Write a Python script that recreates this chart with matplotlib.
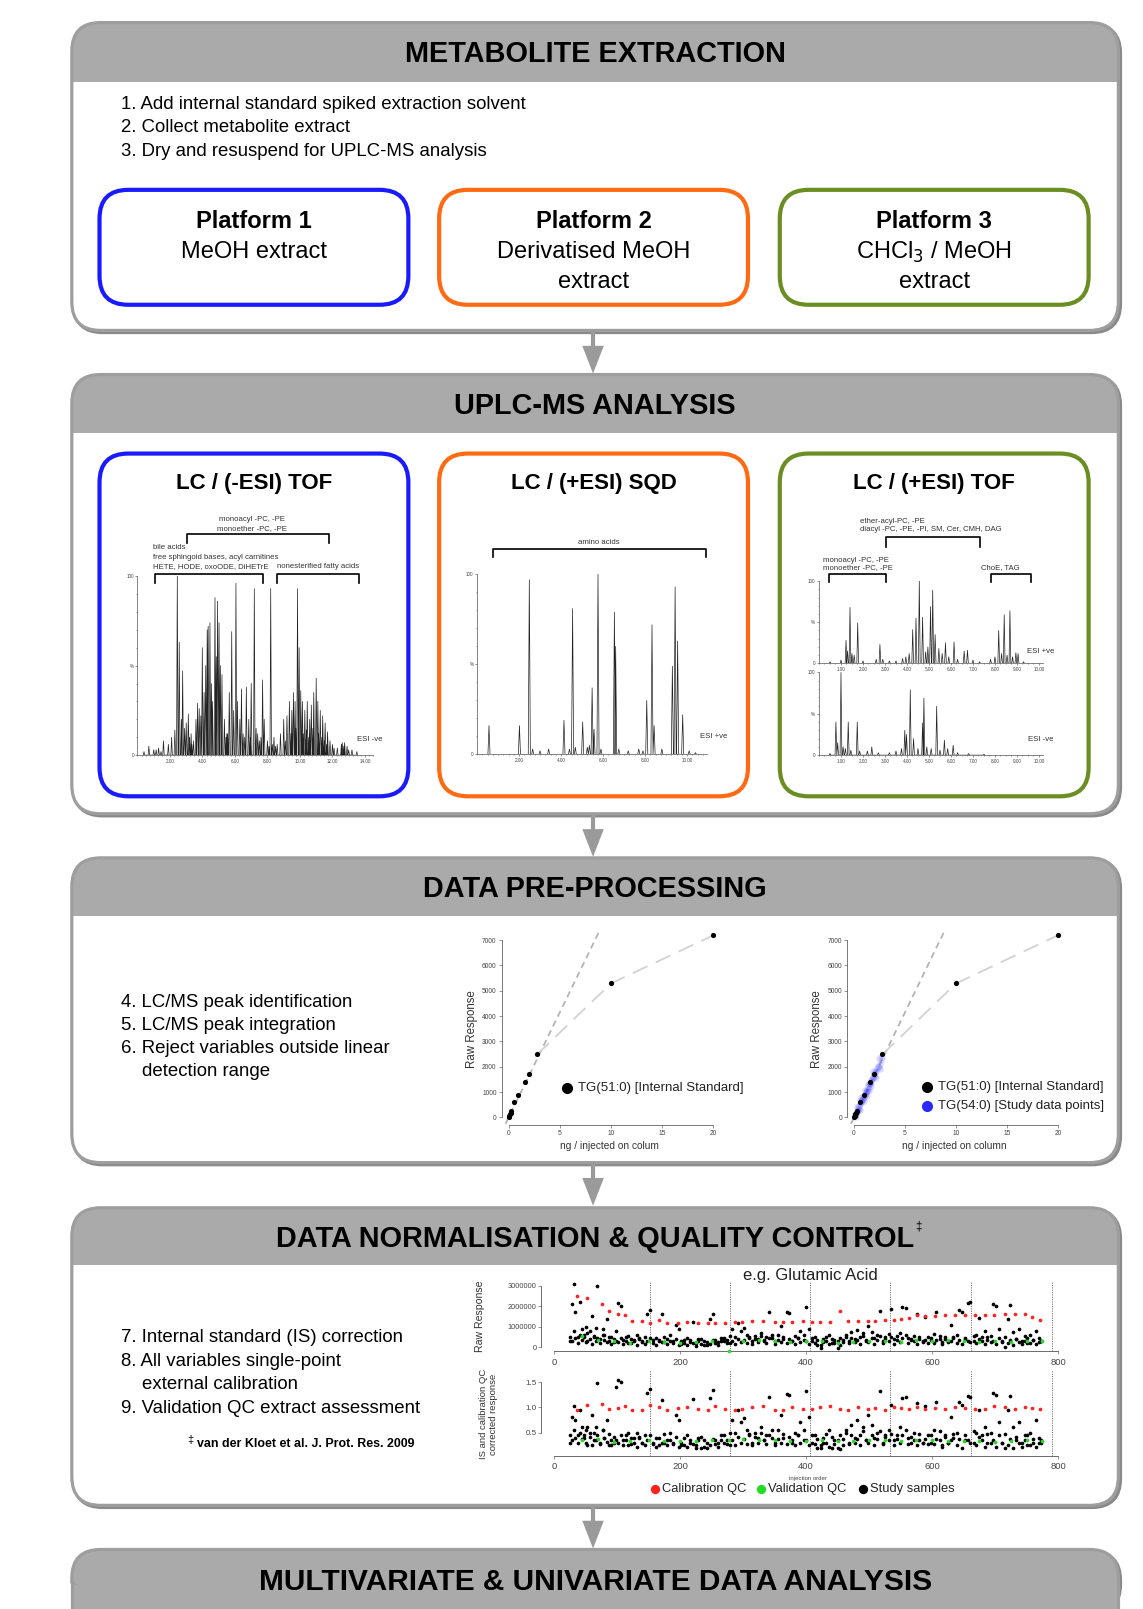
"""Metabolomics workflow figure: extraction -> UPLC-MS -> pre-processing -> QC -> analysis."""

import matplotlib

matplotlib.use("Agg")
import matplotlib.pyplot as plt
import numpy as np
from matplotlib import font_manager
from matplotlib.patches import FancyBboxPatch, Polygon, Rectangle
from matplotlib.ticker import MultipleLocator

plt.rcParams["font.family"] = ["Liberation Sans", "DejaVu Sans"]

# layout units are pixels of the (1114 x 1568) reference view
W, H = 1114, 1568

HEADER = "#aaaaaa"
BORDER = "#9e9e9e"
ARROW = "#9a9a9a"
BLUE = "#1a1aff"
ORANGE = "#ff6a13"
GREEN = "#6b8e23"
INK = "#222222"

# ---------------- chromatograms: peak retention time [min] / height [%] ----
CHROM1_T = [0.7, 1.0, 1.3, 1.6, 1.9, 2.1, 2.3, 2.45, 2.57, 2.7, 2.78, 2.9, 3.0, 3.13,
            3.3, 3.45, 3.6, 3.7, 3.8, 3.9, 3.99, 4.1, 4.2, 4.29, 4.35, 4.46, 4.55,
            4.62, 4.77, 4.85, 4.93, 5.02, 5.1, 5.2, 5.35, 5.5, 5.65, 5.8, 5.92, 6.06,
            6.15, 6.3, 6.4, 6.5, 6.7, 6.85, 7.0, 7.19, 7.3, 7.5, 7.7, 7.8, 8.0, 8.2,
            8.4, 8.6, 8.8, 9.0, 9.2, 9.35, 9.5, 9.6, 9.7, 9.85, 9.95, 10.05, 10.15,
            10.3, 10.45, 10.6, 10.7, 10.85, 11.0, 11.1, 11.25, 11.4, 11.55, 11.7,
            11.85, 12.0, 12.3, 12.55, 12.7, 13.0,
            9.1, 9.45, 9.75, 10.2, 10.4, 10.55, 10.8, 11.15, 11.35, 11.5, 11.65, 12.1,
            12.6, 12.75, 12.9, 13.2, 13.5, 0.4, 1.15, 1.45, 3.2, 3.35, 5.45, 5.55, 6.6,
            6.95, 7.4, 7.6, 8.1, 8.3, 8.5]
CHROM1_H = [5, 3, 4, 8, 6, 10, 14, 100, 63, 20, 47, 15, 18, 23,
            12, 8, 20, 29, 26, 22, 60, 35, 50, 70, 72, 74, 40,
            30, 88, 55, 86, 74, 50, 45, 20, 12, 35, 69, 25, 96,
            30, 20, 37, 12, 38, 20, 40, 93, 15, 8, 42, 20, 8, 93,
            10, 6, 12, 20, 22, 30, 25, 35, 30, 93, 60, 36, 30,
            25, 30, 20, 28, 35, 43, 30, 25, 22, 18, 13,
            8, 6, 4, 6, 5, 3,
            8, 12, 15, 12, 14, 10, 15, 12, 10, 8, 6, 4,
            7, 7, 5, 3, 2, 2, 3, 2, 10, 6, 10, 12, 10,
            10, 12, 10, 5, 6, 5]

CHROM2_T = [0.57, 2.02, 2.49, 2.65, 3.0, 3.41, 4.14, 4.4, 4.55, 4.68, 5.03, 5.25, 5.35,
            5.48, 5.57, 5.76, 5.9, 6.54, 6.6, 6.75, 7.2, 7.7, 7.9, 8.08, 8.33, 8.43,
            8.8, 9.3, 9.43, 9.55, 9.79, 10.1, 10.4]
CHROM2_H = [16, 16, 97, 3, 2, 3, 19, 3, 81, 4, 18, 4, 5,
            37, 14, 100, 3, 79, 60, 3, 2, 3, 2, 30, 72, 16,
            3, 49, 93, 63, 22, 2, 1]

CHROM3_POS_T = [0.5, 1.0, 1.23, 1.3, 1.41, 1.5, 1.6, 1.76, 2.0, 2.6, 2.77, 2.9, 3.2, 3.5,
                3.8, 3.95, 4.1, 4.26, 4.41, 4.56, 4.71, 4.85, 4.95, 5.07, 5.17, 5.28,
                5.45, 5.6, 5.75, 5.9, 6.14, 6.3, 6.6, 6.75, 7.0, 7.3, 7.8, 8.0, 8.17,
                8.3, 8.42, 8.55, 8.68, 8.8, 8.95, 9.05, 9.3]
CHROM3_POS_H = [2, 4, 28, 15, 68, 12, 10, 49, 3, 5, 23, 5, 3, 3,
                6, 8, 12, 41, 55, 100, 56, 14, 20, 69, 89, 35,
                18, 12, 25, 8, 26, 5, 15, 16, 4, 2, 5, 8, 40,
                12, 59, 10, 64, 8, 13, 12, 2]
CHROM3_NEG_T = [0.5, 0.77, 0.85, 1.0, 1.1, 1.2, 1.33, 1.45, 1.74, 1.85, 2.2, 2.4, 2.7,
                3.2, 3.5, 3.75, 3.9, 3.98, 4.15, 4.3, 4.5, 4.71, 4.77, 4.9, 5.1, 5.35,
                5.5, 5.7, 5.85, 6.1, 6.3, 6.8, 7.5]
CHROM3_NEG_H = [2, 40, 15, 100, 10, 8, 40, 6, 40, 5, 5, 10, 3,
                3, 5, 8, 30, 25, 79, 20, 8, 39, 69, 10, 8, 59,
                6, 18, 8, 12, 3, 2, 1]

# ---------------- calibration curves --------------------------------------
CAL_X = [0, 0.05, 0.13, 0.2, 0.25, 0.55, 0.94, 1.59, 1.98, 2.79, 10, 20]     # ng on column
CAL_Y = [0, 60, 120, 180, 250, 620, 900, 1400, 1700, 2490, 5290, 7190]       # raw response
LINEAR_SLOPE = 830  # response per ng, dashed linear range line
STUDY_CAL_X = [0.05, 0.1, 0.15, 0.2, 0.25, 0.3, 0.4, 0.45, 0.5, 0.6, 0.65, 0.7, 0.8, 0.85,
               0.9, 1.0, 1.05, 1.1, 1.2, 1.25, 1.3, 1.4, 1.45, 1.5, 1.6, 1.65, 1.7, 1.8,
               1.85, 1.9, 2.0, 2.05, 2.1, 2.2, 2.3, 2.4, 2.5, 2.6, 0.35, 0.75, 1.15, 1.55,
               1.95, 2.35, 0.3, 0.55, 0.7, 0.95, 1.05, 1.25, 1.35, 1.5, 1.7, 1.9, 2.15,
               2.45, 2.55, 2.7, 0.15, 0.6]
STUDY_CAL_Y = [60, 90, 180, 150, 260, 230, 380, 330, 450, 520, 600, 560, 700, 760,
               720, 850, 900, 880, 1000, 1100, 1050, 1200, 1150, 1300, 1350, 1400, 1480, 1500,
               1600, 1550, 1700, 1650, 1780, 1850, 1950, 2000, 2100, 2250, 300, 680, 1020, 1330,
               1720, 2030, 420, 280, 800, 650, 1100, 850, 1300, 1050, 1250, 1850, 1550,
               2350, 1900, 2400, 20, 700]

# ---------------- QC run: glutamic acid -----------------------------------
BATCH_BREAKS = [152, 279, 406, 534, 662, 790]
CALQC_X = [36, 52, 76, 88, 101, 113, 124, 139, 153, 166, 180, 197, 211, 229, 244, 255, 271,
           287, 299, 315, 331, 350, 364, 378, 395, 410, 422, 438, 454, 466, 482, 498, 510,
           526, 539, 551, 564, 576, 589, 605, 621, 636, 652, 668, 684, 699, 715, 731, 747,
           759, 772]
CALQC_RAW = [2.49, 2.38, 2.13, 1.79, 1.60, 1.56, 1.29, 1.29, 1.17, 1.32, 1.17, 1.17, 1.21,
             1.20, 1.17, 1.20, 1.20, 1.23, 1.23, 1.26, 1.28, 1.24, 1.23, 1.23, 1.26, 1.21,
             1.24, 1.24, 1.75, 1.28, 1.28, 1.28, 1.29, 1.32, 1.32, 1.40, 1.45, 1.56, 1.51,
             1.51, 1.56, 1.56, 1.56, 1.59, 1.56, 1.59, 1.60, 1.60, 1.60, 1.48, 1.35]  # x1e6
CALQC_CORR = [0.94, 1.05, 1.07, 0.96, 0.98, 1.02, 0.94, 0.95, 1.04, 1.00, 0.95, 0.98, 1.00,
              0.97, 0.95, 1.02, 0.97, 0.95, 0.97, 1.00, 1.02, 0.95, 0.94, 1.00, 0.97, 0.96,
              1.00, 1.03, 0.96, 0.94, 1.01, 0.97, 0.99, 0.95, 1.00, 0.98, 0.96, 1.00, 0.97,
              0.98, 0.96, 1.00, 0.99, 0.97, 0.97, 1.02, 1.00, 0.96, 1.01, 0.99, 0.97]
VALQC_X = [45, 70, 95, 120, 150, 175, 200, 225, 250, 278, 300, 325, 350, 375, 400, 425, 450,
           475, 500, 525, 550, 575, 600, 625, 650, 675, 700, 725, 750, 775]
VALQC_RAW = [0.55, 0.35, 0.3, 0.2, 0.3, 0.25, 0.2, 0.25, 0.3, -0.2, 0.3, 0.35, 0.3, 0.25, 0.3,
             0.3, 0.2, 0.25, 0.3, 0.3, 0.25, 0.35, 0.3, 0.35, 0.3, 0.25, 0.3, 0.25, 0.3, 0.3]
VALQC_CORR = [0.35, 0.37, 0.32, 0.33, 0.35, 0.34, 0.33, 0.34, 0.36, 0.36, 0.37, 0.36, 0.35,
              0.33, 0.34, 0.35, 0.33, 0.34, 0.35, 0.36, 0.34, 0.36, 0.35, 0.34, 0.33, 0.34,
              0.32, 0.33, 0.35, 0.34]
STUDY_X = [26, 29, 31, 34, 38, 41, 44, 47, 50, 53, 57, 60, 63, 66, 69, 73, 77, 80, 84, 87, 91, 95, 98,
           102, 106, 110, 114, 118, 122, 127, 131, 135, 140, 144, 148, 153, 157, 162, 166, 171,
           175, 180, 184, 189, 193, 198,
           202, 207, 211, 216, 220, 225, 229, 234, 238, 243, 247, 252, 256, 261, 265, 270, 274,
           279, 283, 288, 292, 297,
           301, 306, 310, 315, 319, 324, 328, 333, 337, 342, 346, 351, 355, 360, 364, 369, 373,
           378, 382, 387, 391, 396,
           400, 405, 409, 414, 418, 423, 427, 432, 436, 441, 445, 450, 454, 459, 463, 468, 472,
           477, 481, 486, 490, 495,
           499, 504, 508, 513, 517, 522, 526, 531, 535, 540, 544, 549, 553, 558, 562, 567, 571,
           576, 580, 585, 589, 594,
           598, 603, 607, 612, 616, 621, 625, 630, 634, 639, 643, 648, 652, 657, 661, 666, 670,
           675, 679, 684, 688, 693,
           697, 702, 706, 711, 715, 720, 724, 729, 733, 738, 742, 747, 751, 756, 760, 765, 769, 773]
STUDY_RAW_A = [0.3, 2.1, 3.1, 1.7, 0.5, 2.2, 0.9, 0.6, 1.0, 0.3, 0.8, 1.55, 0.5, 0.95, 3.0, 0.4,
               0.9, 0.6, 1.4, 0.3, 0.5, 0.25, 0.8,
               2.15, 2.0, 0.35, 0.5, 0.2, 0.4, 0.3, 0.6, 0.45, 0.3, 0.5, 1.6, 1.8, 0.35, 0.45,
               0.3, 1.6, 0.25, 0.4, 0.6, 0.3, 1.1, 0.9,
               0.3, 0.2, 0.45, 0.35, 1.25, 0.2, 0.4, 0.15, 0.3, 0.1, 1.4, 1.6, 0.35, 0.25, 0.45,
               0.3, 0.35, 0.2, 0.9, 0.5, 1.2, 0.8,
               0.95, 0.6, 0.45, 0.3, 0.55, 0.4, 0.7, 0.35, 0.5, 1.7, 0.45, 0.3, 0.6, 1.05, 0.4,
               1.7, 1.65, 0.3, 0.55, 0.45, 0.8, 0.35,
               1.95, 0.9, 0.3, 0.5, 0.1, -0.05, 0.4, 0.3, 0.6, 0.2, 0.35, -0.05, 0.45, 0.25, 0.6,
               0.3, 0.75, 0.4, 0.85, 0.5, 0.7, 0.35,
               1.05, 0.75, 0.45, 0.6, 1.75, 0.3, 0.5, 0.65, 1.85, 0.4, 0.55, 0.7, 1.95, 1.9,
               0.45, 0.35, 0.55, 1.6, 0.4, 0.3, 1.5, 0.5,
               0.35, 0.65, 1.7, 0.4, 0.25, 0.5, 0.3, 1.1, 0.45, 0.6, 1.8, 1.7, 0.4, 2.15, 2.2,
               0.3, 0.6, 1.45, 0.5, 0.8, 0.35, 0.55,
               2.1, 2.0, 0.9, 0.3, 0.0, 1.4, 2.05, 0.75, 0.4, 0.9, 0.3, 0.55, 0.2, 0.6, 0.35,
               0.8, 0.45, 0.3]
STUDY_RAW_B = [0.5, 0.3, 0.8, 0.45, 0.2, 0.6, 0.35, 0.5, 0.25, 0.7, 0.4, 0.15, 0.55, 0.3, 0.45,
               0.2, 0.6, 0.35, 0.25, 0.5, 0.15, 0.4, 0.3,
               0.25, 0.45, 0.15, 0.3, 0.55, 0.2, 0.35, 0.1, 0.4, 0.25, 0.15, 0.3, 0.45, 0.2, 0.1,
               0.35, 0.25, 0.5, 0.15, 0.3, 0.2, 0.4, 0.1,
               0.15, 0.35, 0.1, 0.25, 0.2, 0.05, 0.3, 0.4, 0.1, 0.25, 0.15, 0.35, 0.2, 0.1, 0.3,
               0.45, 0.2, 0.55, 0.3, 0.15, 0.4, 0.25,
               0.35, 0.2, 0.5, 0.15, 0.4, 0.25, 0.55, 0.3, 0.2, 0.45, 0.6, 0.15, 0.35, 0.25, 0.5,
               0.2, 0.4, 0.3, 0.15, 0.45, 0.25, 0.6,
               0.3, 0.15, 0.45, 0.2, 0.35, 0.1, 0.25, 0.5, 0.15, 0.4, 0.2, 0.3, 0.1, 0.35, 0.5,
               0.2, 0.45, 0.25, 0.35, 0.15, 0.55, 0.3,
               0.25, 0.45, 0.15, 0.35, 0.55, 0.2, 0.4, 0.3, 0.5, 0.15, 0.35, 0.25, 0.45, 0.6, 0.2,
               0.4, 0.3, 0.15, 0.5, 0.25, 0.35, 0.2,
               0.45, 0.2, 0.35, 0.55, 0.15, 0.4, 0.25, 0.3, 0.5, 0.2, 0.35, 0.15, 0.45, 0.3, 0.25,
               0.55, 0.2, 0.4, 0.3, 0.15, 0.5, 0.25,
               0.3, 0.15, 0.45, 0.25, 0.5, 0.2, 0.35, 0.1, 0.4, 0.25, 0.15, 0.3, 0.45, 0.2, 0.35,
               0.15, 0.25, 0.3]
STUDY_CORR_A = [0.3, 0.8, 1.02, 0.75, 0.45, 0.95, 0.6, 0.4, 0.55, 0.25, 0.5, 0.85, 0.35, 0.6,
                1.48, 0.3, 0.55, 0.4, 0.75, 0.25, 0.35, 0.3, 1.4,
                1.55, 1.5, 0.35, 0.45, 0.25, 0.4, 0.3, 0.5, 0.4, 0.3, 0.45, 1.28, 1.36, 0.3, 0.4,
                0.25, 1.15, 0.3, 0.35, 0.5, 0.3, 0.85, 0.75,
                0.3, 0.25, 0.45, 0.35, 1.17, 0.25, 0.4, 0.2, 0.35, 0.2, 1.18, 1.35, 0.35, 0.3,
                0.45, 0.3, 0.35, 0.25, 0.75, 0.5, 0.95, 0.7,
                0.78, 0.55, 0.45, 0.3, 0.5, 0.4, 0.6, 0.35, 0.45, 1.2, 0.4, 0.3, 0.55, 0.85, 0.4,
                1.26, 1.25, 0.3, 0.5, 0.45, 0.7, 0.35,
                1.33, 0.8, 0.3, 0.45, 0.2, 0.25, 0.4, 0.3, 0.55, 0.2, 0.35, 0.2, 0.45, 0.25, 0.55,
                0.3, 0.65, 0.4, 0.75, 0.45, 0.6, 0.35,
                0.85, 0.65, 0.4, 0.5, 1.32, 0.3, 0.45, 0.55, 1.05, 0.35, 0.45, 0.6, 1.18, 1.2,
                0.4, 0.3, 0.5, 1.08, 0.35, 0.3, 1.02, 0.45,
                0.3, 0.55, 1.1, 0.35, 0.25, 0.45, 0.3, 0.8, 0.4, 0.5, 1.1, 1.05, 0.35, 1.22, 1.2,
                0.3, 0.5, 0.95, 0.45, 0.6, 0.3, 0.5,
                1.28, 1.25, 0.7, 0.3, 0.2, 0.95, 1.22, 0.6, 0.35, 0.7, 0.3, 0.45, 0.25, 0.5, 0.3,
                0.75, 0.4, 0.3]
STUDY_CORR_B = [0.45, 0.35, 0.55, 0.4, 0.3, 0.5, 0.38, 0.45, 0.3, 0.6, 0.42, 0.25, 0.5, 0.35,
                0.45, 0.28, 0.55, 0.4, 0.32, 0.48, 0.25, 0.42, 0.35,
                0.3, 0.45, 0.25, 0.35, 0.5, 0.28, 0.4, 0.22, 0.42, 0.3, 0.25, 0.35, 0.45, 0.28,
                0.22, 0.4, 0.3, 0.48, 0.25, 0.35, 0.28, 0.42, 0.22,
                0.25, 0.4, 0.22, 0.3, 0.28, 0.2, 0.35, 0.42, 0.22, 0.3, 0.25, 0.38, 0.28, 0.22,
                0.35, 0.45, 0.28, 0.5, 0.35, 0.25, 0.42, 0.3,
                0.38, 0.28, 0.48, 0.25, 0.42, 0.3, 0.5, 0.35, 0.28, 0.45, 0.55, 0.25, 0.38, 0.3,
                0.48, 0.28, 0.42, 0.35, 0.25, 0.45, 0.3, 0.55,
                0.35, 0.25, 0.45, 0.28, 0.38, 0.2, 0.3, 0.48, 0.22, 0.42, 0.28, 0.35, 0.18, 0.38,
                0.5, 0.28, 0.45, 0.3, 0.38, 0.25, 0.52, 0.35,
                0.3, 0.45, 0.25, 0.38, 0.52, 0.28, 0.42, 0.35, 0.48, 0.25, 0.38, 0.3, 0.45, 0.55,
                0.28, 0.42, 0.35, 0.25, 0.48, 0.3, 0.38, 0.28,
                0.45, 0.28, 0.38, 0.52, 0.22, 0.42, 0.3, 0.35, 0.48, 0.25, 0.38, 0.2, 0.45, 0.35,
                0.3, 0.52, 0.25, 0.42, 0.35, 0.22, 0.48, 0.3,
                0.35, 0.22, 0.45, 0.3, 0.48, 0.25, 0.38, 0.2, 0.42, 0.3, 0.22, 0.35, 0.45, 0.25,
                0.38, 0.22, 0.3, 0.35]

fig = plt.figure(figsize=(11.43, 16.09), dpi=100)
bg = fig.add_axes([0, 0, 1, 1])
bg.set_xlim(0, W)
bg.set_ylim(H, 0)
bg.axis("off")


def _has_font(name):
    return any(f.name == name for f in font_manager.fontManager.ttflist)


def _inset(x0, x1, y_top, y_bot):
    ax = fig.add_axes([x0 / W, 1 - y_bot / H, (x1 - x0) / W, (y_bot - y_top) / H])
    ax.patch.set_alpha(0)
    for s in ("top", "right"):
        ax.spines[s].set_visible(False)
    return ax


def _section(y0, y1, hdr, title, fs=20.8, family=None):
    x0, x1, r = 70, 1090, 28
    style = f"round,pad=0,rounding_size={r}"
    bg.add_patch(FancyBboxPatch((x0 + 2, y0 + 2), x1 - x0, y1 - y0, boxstyle=style,
                                fc="none", ec="#8a8a8a", lw=2.4, zorder=1))
    body = FancyBboxPatch((x0, y0), x1 - x0, y1 - y0, boxstyle=style, fc="white", ec="none", zorder=2)
    bg.add_patch(body)
    band = Rectangle((x0, y0), x1 - x0, hdr - y0, fc=HEADER, ec="none", zorder=3)
    bg.add_patch(band)
    band.set_clip_path(body)
    bg.add_patch(FancyBboxPatch((x0, y0), x1 - x0, y1 - y0, boxstyle=style,
                                fc="none", ec=BORDER, lw=2.3, zorder=4))
    kw = dict(fontsize=fs, fontweight="bold", ha="center", va="center", zorder=5)
    if family:
        kw["family"] = family
    y_mid = (y0 + 58 / 2) if hdr - y0 > 60 else (y0 + hdr) / 2
    return bg.text(580, y_mid + 2, title, **kw)


def _arrow(y0, y1, x=578):
    bg.plot([x, x], [y0, y1 - 20], color=ARROW, lw=3, solid_capstyle="butt", zorder=6)
    bg.add_patch(Polygon([[x - 10.5, y1 - 27], [x + 10.5, y1 - 27], [x, y1]],
                         closed=True, fc=ARROW, ec="none", zorder=6))


def _platform(x0, color, y0, y1):
    bg.add_patch(FancyBboxPatch((x0, y0), 301, y1 - y0, boxstyle="round,pad=0,rounding_size=28",
                                fc="none", ec=color, lw=3.0, zorder=5))


def _lines(x, ys, texts, fs=13.4):
    for y, t in zip(ys, texts):
        bg.text(x, y + 1.5, t, fontsize=fs, va="center", ha="left", zorder=6)


def _chrom(ax, ts, hs, width, xmax, xticks):
    order = np.argsort(ts)
    xs, ys = [], []
    for i in order:
        xs += [ts[i] - width, ts[i], ts[i] + width]
        ys += [0, hs[i], 0]
    ax.plot(xs, ys, color=INK, lw=0.5)
    ax.set_xlim(0, xmax)
    ax.set_ylim(0, 100)
    ax.spines["left"].set_bounds(0, 100)
    ax.spines["bottom"].set_bounds(0, xmax)
    for s in ("left", "bottom"):
        ax.spines[s].set_linewidth(0.5)
        ax.spines[s].set_color("#555555")
    ax.set_yticks([0, 50, 100], ["0", "%", "100"])
    ax.set_xticks(xticks, [f"{v:.2f}" for v in xticks])
    ax.xaxis.set_minor_locator(MultipleLocator(0.25))
    ax.yaxis.set_minor_locator(MultipleLocator(10))
    ax.tick_params(which="both", labelsize=3.3, length=1.6, width=0.4, pad=1, colors="#444444")
    ax.tick_params(which="minor", length=1.0)


def _bracket(ax, x0, x1, y_top, y_leg):
    ax.plot([x0, x0, x1, x1], [y_leg, y_top, y_top, y_leg], color="black", lw=1.2, clip_on=False)


def _note(ax, x, y, s, ha="left"):
    ax.text(x, y, s, fontsize=5.6, ha=ha, va="center", color="#333333", clip_on=False)


def _calibration(ax, xlabel):
    ax.set_xlim(-0.8, 20.5)
    ax.set_ylim(-350, 7350)
    xl = np.array([-0.3, 9.2])
    ax.plot(xl, LINEAR_SLOPE * xl, color="#b4b4b4", lw=1.3, dashes=(3.5, 2.5), zorder=1)
    cx, cy = np.array(CAL_X), np.array(CAL_Y)
    upper = cx >= 2.79
    ax.plot(cx[upper], cy[upper], color="#d2d2d2", lw=1.3, dashes=(9, 5), zorder=1)
    ax.spines["left"].set_position(("data", -0.7))
    ax.spines["left"].set_bounds(0, 7000)
    ax.spines["bottom"].set_position(("data", -300))
    ax.spines["bottom"].set_bounds(0, 20)
    for s in ("left", "bottom"):
        ax.spines[s].set_linewidth(0.5)
        ax.spines[s].set_color("#444444")
    ax.set_yticks(range(0, 7001, 1000))
    ax.set_xticks([0, 5, 10, 15, 20])
    ax.tick_params(labelsize=4.8, length=2, width=0.4, pad=1.5, colors="#444444")
    ax.set_ylabel("Raw Response", fontsize=8.3, labelpad=3, color="#333333")
    ax.set_xlabel(xlabel, fontsize=7.3, labelpad=3, color="#333333")
    return cx, cy


def _qc_axes(ax, ylim, spine_y, ybounds, yticks, ylabels, vtop):
    ax.set_xlim(-25, 820)
    ax.set_ylim(*ylim)
    ax.vlines(BATCH_BREAKS, spine_y, vtop, colors="#777777", linestyles=(0, (1.2, 1.2)), lw=0.7, zorder=1)
    ax.spines["left"].set_position(("data", -20))
    ax.spines["left"].set_bounds(*ybounds)
    ax.spines["bottom"].set_position(("data", spine_y))
    ax.spines["bottom"].set_bounds(0, 800)
    for s in ("left", "bottom"):
        ax.spines[s].set_linewidth(0.6)
        ax.spines[s].set_color("#555555")
    ax.set_yticks(yticks, ylabels)
    ax.set_xticks([0, 200, 400, 600, 800])
    ax.tick_params(axis="y", labelsize=5.3, length=2, width=0.4, pad=1.5, colors="#444444")
    ax.tick_params(axis="x", labelsize=6.8, length=2.5, width=0.4, pad=2, colors="#444444")


def main() -> None:
    # ---------------- section frames ----------------
    _section(22, 322, 80, "METABOLITE EXTRACTION")
    _section(365, 793, 422, "UPLC-MS ANALYSIS")
    _section(836, 1133, 893, "DATA PRE-PROCESSING")
    t4 = _section(1177, 1467, 1233, "DATA NORMALISATION & QUALITY CONTROL")
    if _has_font("Liberation Sans Narrow"):
        _section(1510, 1570, 1570, "MULTIVARIATE & UNIVARIATE DATA ANALYSIS", fs=24,
                 family=["Liberation Sans Narrow", "Liberation Sans"])
    else:
        _section(1510, 1570, 1570, "MULTIVARIATE & UNIVARIATE DATA ANALYSIS", fs=21.5)
    # the last box runs off the page
    bg.add_patch(Rectangle((70, 1545), 1020, 40, fc=HEADER, ec="none", zorder=4.5))
    bg.plot([70, 70], [1545, 1568], color=BORDER, lw=2.3, zorder=4.6)
    bg.plot([1090, 1090], [1545, 1568], color=BORDER, lw=2.3, zorder=4.6)
    for y0, y1 in [(322, 364), (793, 835), (1133, 1175), (1467, 1509)]:
        _arrow(y0, y1)

    fig.canvas.draw()
    bb = t4.get_window_extent(fig.canvas.get_renderer())
    xr = bg.transData.inverted().transform((bb.x1, bb.y1))[0]
    bg.text(xr + 1, 1195, "‡", fontsize=8.5, ha="left", va="center", zorder=6)

    # ---------------- section 1 ----------------
    _lines(118, [100, 123, 146], ["1. Add internal standard spiked extraction solvent",
                                  "2. Collect metabolite extract",
                                  "3. Dry and resuspend for UPLC-MS analysis"])
    xs = [97, 428, 760]
    cols = [BLUE, ORANGE, GREEN]
    heads = ["Platform 1", "Platform 2", "Platform 3"]
    bodies = [["MeOH extract"], ["Derivatised MeOH", "extract"], ["CHCl$_3$ / MeOH", "extract"]]
    for x0, c, h, b in zip(xs, cols, heads, bodies):
        _platform(x0, c, 185, 297)
        cx = x0 + 150.5
        bg.text(cx, 216, h, fontsize=17, fontweight="bold", ha="center", va="center", zorder=6)
        for k, line in enumerate(b):
            bg.text(cx, 246 + 29 * k, line, fontsize=17, ha="center", va="center", zorder=6)

    # ---------------- section 2: chromatograms ----------------
    titles = ["LC / (-ESI) TOF", "LC / (+ESI) SQD", "LC / (+ESI) TOF"]
    for x0, c, t in zip(xs, cols, titles):
        _platform(x0, c, 442, 776)
        bg.text(x0 + 150.5, 471, t, fontsize=16, fontweight="bold", ha="center", va="center", zorder=6)

    a1 = _inset(134.0, 363.6, 561.4, 735.9)
    _chrom(a1, CHROM1_T, CHROM1_H, 0.045, 14.5, [2, 4, 6, 8, 10, 12, 14])
    _bracket(a1, 1.08, 7.7, 101, 96)
    _bracket(a1, 8.6, 13.65, 101, 96)
    _bracket(a1, 3.03, 11.77, 123.3, 118.6)
    _note(a1, 0.93, 115.8, "bile acids")
    _note(a1, 0.93, 110.6, "free sphingoid bases, acyl carnitines")
    _note(a1, 0.93, 105.2, "HETE, HODE, oxoODE, DiHETrE")
    _note(a1, 11.1, 105.2, "nonesterified fatty acids", ha="center")
    _note(a1, 7.03, 131.8, "monoacyl -PC, -PE", ha="center")
    _note(a1, 7.03, 126.6, "monoether -PC, -PE", ha="center")
    _note(a1, 14.3, 9, "ESI -ve", ha="center")

    a2 = _inset(464.9, 689.1, 559.7, 735.2)
    _chrom(a2, CHROM2_T, CHROM2_H, 0.05, 10.95, [2, 4, 6, 8, 10])
    _bracket(a2, 0.78, 10.89, 114.2, 109.4)
    _note(a2, 5.81, 117.8, "amino acids", ha="center")
    _note(a2, 11.25, 10, "ESI +ve", ha="center")

    a3 = _inset(798.2, 1016.9, 566.3, 646.5)
    _chrom(a3, CHROM3_POS_T, CHROM3_POS_H, 0.04, 10.2, list(range(1, 11)))
    _bracket(a3, 0.47, 3.05, 109, 98.8)
    _bracket(a3, 7.83, 9.62, 109, 98.8)
    _bracket(a3, 3.05, 7.32, 153.9, 142)
    _note(a3, 0.2, 125, "monoacyl -PC, -PE")
    _note(a3, 0.2, 117, "monoether -PC, -PE")
    _note(a3, 8.23, 117, "ChoE, TAG", ha="center")
    _note(a3, 1.86, 163, "diacyl -PC, -PE, -PI, SM, Cer, CMH, DAG")
    _note(a3, 1.86, 173, "ether-acyl-PC, -PE")
    _note(a3, 10.1, 14, "ESI +ve", ha="center")

    a4 = _inset(798.2, 1016.9, 655.3, 735.9)
    _chrom(a4, CHROM3_NEG_T, CHROM3_NEG_H, 0.04, 10.2, list(range(1, 11)))
    _note(a4, 10.1, 19, "ESI -ve", ha="center")

    # ---------------- section 3: calibration ----------------
    _lines(118, [975, 998, 1020], ["4. LC/MS peak identification", "5. LC/MS peak integration",
                                   "6. Reject variables outside linear"])
    _lines(138, [1043], ["detection range"])

    c1 = _inset(487.8, 700.2, 907.5, 1097.6)
    cx, cy = _calibration(c1, "ng / injected on colum")
    c1.scatter(cx, cy, s=14, color="black", zorder=3, linewidths=0)
    bg.scatter([552.3], [1060.5], s=64, color="black", zorder=7, linewidths=0)
    bg.text(563, 1060.5, "TG(51:0) [Internal Standard]", fontsize=9.5, va="center", color="#222222", zorder=7)

    c2 = _inset(824.4, 1036.2, 907.5, 1097.6)
    cx, cy = _calibration(c2, "ng / injected on column")
    c2.scatter(STUDY_CAL_X, STUDY_CAL_Y, s=22, color="#3333ff", alpha=0.16, zorder=2, linewidths=0)
    c2.scatter(cx, cy, s=14, color="black", zorder=3, linewidths=0)
    bg.scatter([903.8], [1059.5], s=64, color="black", zorder=7, linewidths=0)
    bg.scatter([903.8], [1077.5], s=64, color="#2a2aff", zorder=7, linewidths=0)
    bg.text(914, 1059.5, "TG(51:0) [Internal Standard]", fontsize=9.5, va="center", color="#222222", zorder=7)
    bg.text(914, 1077.5, "TG(54:0) [Study data points]", fontsize=9.5, va="center", color="#222222", zorder=7)

    # ---------------- section 4: QC ----------------
    _lines(118, [1302, 1325], ["7. Internal standard (IS) correction", "8. All variables single-point"])
    _lines(138, [1348], ["external calibration"])
    _lines(118, [1371], ["9. Validation QC extract assessment"])
    bg.text(183, 1403, "‡", fontsize=8, ha="left", va="center", zorder=6)
    bg.text(192, 1407, "van der Kloet et al. J. Prot. Res. 2009", fontsize=8.9, fontweight="bold",
            ha="left", va="center", zorder=6)

    q1 = _inset(524.6, 1043.5, 1247, 1319)
    _qc_axes(q1, (-0.3, 3.3), -0.2, (0, 3), [0, 1, 2, 3], ["0", "1000000", "2000000", "3000000"], 3.25)
    q1.scatter(STUDY_X, STUDY_RAW_B, s=7, color="black", linewidths=0, zorder=2)
    q1.scatter(STUDY_X, STUDY_RAW_A, s=7, color="black", linewidths=0, zorder=2)
    q1.scatter(VALQC_X, VALQC_RAW, s=7, color="#22dd22", linewidths=0, zorder=3)
    q1.scatter(CALQC_X, CALQC_RAW, s=7, color="#ff2222", linewidths=0, zorder=3)

    q2 = _inset(524.6, 1043.5, 1334.75, 1420.5)
    _qc_axes(q2, (0, 1.75), 0.04, (0.5, 1.5), [0.5, 1.0, 1.5], ["0.5", "1.0", "1.5"], 1.72)
    q2.tick_params(axis="y", labelsize=5.8)
    q2.scatter(STUDY_X, STUDY_CORR_B, s=7, color="black", linewidths=0, zorder=2)
    q2.scatter(STUDY_X, STUDY_CORR_A, s=7, color="black", linewidths=0, zorder=2)
    q2.scatter(VALQC_X, VALQC_CORR, s=7, color="#22dd22", linewidths=0, zorder=3)
    q2.scatter(CALQC_X, CALQC_CORR, s=7, color="#ff2222", linewidths=0, zorder=3)

    bg.text(790, 1243, "e.g. Glutamic Acid", fontsize=12, ha="center", va="center", color="#222222", zorder=7)
    bg.text(468, 1283, "Raw Response", fontsize=7.6, rotation=90, ha="center", va="center",
            color="#333333", zorder=7)
    bg.text(476, 1378, "IS and calibration QC\ncorrected response", fontsize=6.8, rotation=90,
            ha="center", va="center", linespacing=1.1, color="#333333", zorder=7)
    bg.text(787, 1441, "injection order", fontsize=4.3, ha="center", va="center", color="#444444", zorder=7)
    for x, c, lab in [(638, "#ff2222", "Calibration QC"), (742, "#22dd22", "Validation QC"),
                      (841, "black", "Study samples")]:
        bg.scatter([x], [1451], s=45, color=c, linewidths=0, zorder=7)
        bg.text(x + 7, 1451, lab, fontsize=9.3, va="center", ha="left", color="#222222", zorder=7)

    fig.savefig("out.png", dpi=100)
    plt.close(fig)


if __name__ == "__main__":
    main()
